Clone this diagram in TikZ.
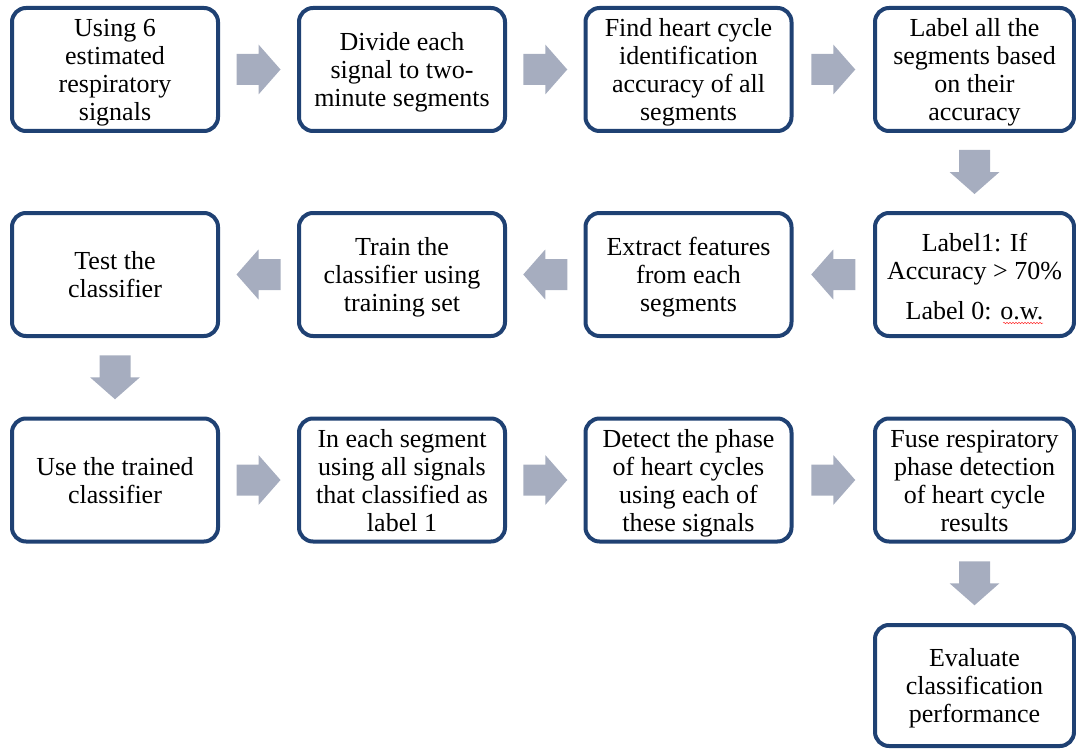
\documentclass[tikz,border=0pt]{standalone}
\usepackage{fontspec}
\setmainfont{Liberation Serif}
\usetikzlibrary{calc,decorations.pathmorphing}
\definecolor{boxblue}{RGB}{31,65,115}
\definecolor{arrowgray}{RGB}{166,173,191}
\newcommand{\boxtext}[2][27pt]{\begin{tabular}{@{}c@{}}\rule{0pt}{#1}#2\end{tabular}}
\tikzset{
  stepbox/.style={draw=boxblue, line width=4pt, rounded corners=14pt, fill=white,
    minimum width=206pt, minimum height=123pt, inner sep=0pt,
    font=\fontsize{26}{28}\selectfont},
  narrowbox/.style={stepbox, minimum width=199pt},
  blockarrow/.style={fill=arrowgray, draw=none}
}
\newcommand{\blkarrow}[3]{%
  \fill[blockarrow, shift={($(#1)!0.5!(#2)$)}, rotate=#3]
    (-22,-15.5) -- (0,-15.5) -- (0,-25) -- (22,0) -- (0,25) -- (0,15.5) -- (-22,15.5) -- cycle;}
\begin{document}
\begin{tikzpicture}[x=1pt,y=-1pt]
\useasboundingbox (0,0) rectangle (1076,749);
% row 1
\node[stepbox] (n1) at (115,69.5) {\boxtext{Using 6\\estimated\\respiratory\\signals}};
\node[stepbox] (n2) at (402,69.5) {\boxtext{Divide each\\signal to two-\\minute segments}};
\node[stepbox] (n3) at (688.5,69.5) {\boxtext{Find heart cycle\\identification\\accuracy of all\\segments}};
\node[narrowbox] (n4) at (974.5,69.5) {\boxtext{Label all the\\segments based\\on their\\accuracy}};
% row 2
\node[narrowbox] (m4) at (974.5,274.5) {\boxtext[31pt]{Label1: If\\Accuracy > 70\%\\[12pt]Label 0: o.w.}};
\node[stepbox] (m3) at (688.5,274.5) {\boxtext{Extract features\\from each\\segments}};
\node[stepbox] (m2) at (402,274.5) {\boxtext{Train the\\classifier using\\training set}};
\node[stepbox] (m1) at (115,274.5) {\boxtext{Test the\\classifier}};
% row 3
\node[stepbox] (r1) at (115,480) {\boxtext{Use the trained\\classifier}};
\node[stepbox] (r2) at (402,480) {\boxtext{In each segment\\using all signals\\that classified as\\label 1}};
\node[stepbox] (r3) at (688.5,480) {\boxtext{Detect the phase\\of heart cycles\\using each of\\these signals}};
\node[narrowbox] (r4) at (974.5,480) {\boxtext{Fuse respiratory\\phase detection\\of heart cycle\\results}};
% row 4
\node[narrowbox, minimum height=121pt] (e) at (974.5,685.5) {\boxtext{Evaluate\\classification\\performance}};
% arrows
\blkarrow{n1.east}{n2.west}{0}
\blkarrow{n2.east}{n3.west}{0}
\blkarrow{n3.east}{n4.west}{0}
\blkarrow{n4.south}{m4.north}{-90}
\blkarrow{m4.west}{m3.east}{180}
\blkarrow{m3.west}{m2.east}{180}
\blkarrow{m2.west}{m1.east}{180}
\blkarrow{m1.south}{r1.north}{-90}
\blkarrow{r1.east}{r2.west}{0}
\blkarrow{r2.east}{r3.west}{0}
\blkarrow{r3.east}{r4.west}{0}
\blkarrow{r4.south}{e.north}{-90}
% spell-check squiggle
\coordinate (sqa) at (1003,323);
\coordinate (sqb) at (1043,323);
\draw[red!80, line width=0.5pt, decorate, decoration={snake, amplitude=0.7pt, segment length=3pt}] (sqa) -- (sqb);
\end{tikzpicture}
\end{document}
